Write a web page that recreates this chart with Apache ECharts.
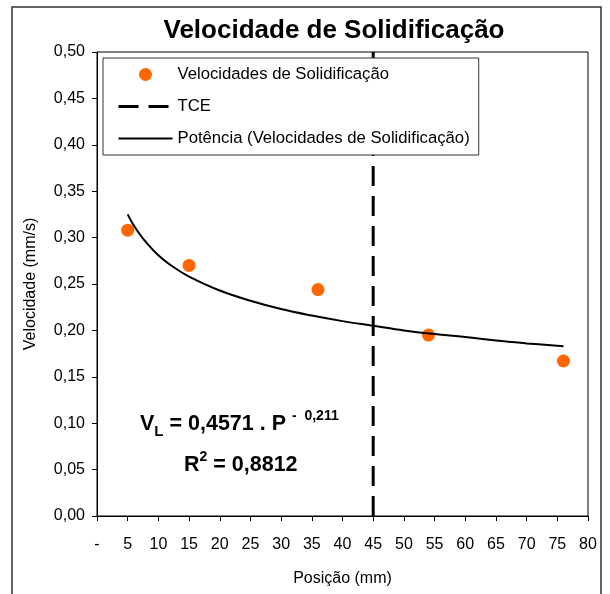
<!DOCTYPE html>
<html>
<head>
<meta charset="utf-8">
<script src="https://cdn.jsdelivr.net/npm/echarts@6.0.0/dist/echarts.min.js"></script>
<style>
  html, body { margin: 0; padding: 0; background: #fff; }
  #chart { width: 610px; height: 594px; }
</style>
</head>
<body>
<div id="chart"></div>
<script>
// Measured solidification speeds
const posicoes = [5, 15, 36, 54, 76];
const velocidades = [0.308, 0.270, 0.244, 0.195, 0.167];

// Power trendline V = 0,4571 . P^-0,211 (sampled values)
const tendenciaX = [5, 6, 7.5, 10, 12.5, 15, 20, 25, 30, 35, 40, 45, 50, 55, 60, 65, 70, 76];
const tendenciaY = [0.325, 0.313, 0.299, 0.281, 0.268, 0.258, 0.243, 0.232, 0.223, 0.216, 0.210, 0.205, 0.200, 0.196, 0.193, 0.189, 0.186, 0.183];

// Columnar-to-equiaxed transition position
const tceX = [45, 45];
const tceY = [0, 0.5];

const nomePontos = 'Velocidades de Solidificação';
const nomeTce = 'TCE';
const nomeTendencia = 'Potência (Velocidades de Solidificação)';

const FONT = '"Liberation Sans", Arial, sans-serif';

const pares = (xs, ys) => xs.map((x, i) => [x, ys[i]]);

const chart = echarts.init(document.getElementById('chart'), null, { renderer: 'canvas' });

const tceLinha = { color: '#000', width: 3, type: [20, 10] };
const tendLinha = { color: '#000', width: 2, type: 'solid' };

chart.setOption({
  backgroundColor: '#fff',
  animation: false,
  textStyle: { fontFamily: FONT, color: '#000' },
  grid: { left: 97, right: 22, top: 52, bottom: 78, show: true, borderColor: '#000', borderWidth: 1, backgroundColor: 'transparent' },
  xAxis: {
    type: 'value', min: 0, max: 80, interval: 5,
    name: 'Posição (mm)', nameLocation: 'middle', nameGap: 55,
    nameTextStyle: { fontFamily: FONT, fontSize: 16, color: '#000' },
    axisLine: { lineStyle: { color: '#000', width: 1 } },
    axisTick: { inside: false, length: 5, lineStyle: { color: '#000' } },
    axisLabel: { fontFamily: FONT, fontSize: 16, color: '#000', margin: 21,
      formatter: v => v === 0 ? '-' : String(v) },
    splitLine: { show: false }
  },
  yAxis: {
    type: 'value', min: 0, max: 0.5, interval: 0.05,
    name: 'Velocidade (mm/s)', nameLocation: 'middle', nameGap: 58,
    nameTextStyle: { fontFamily: FONT, fontSize: 16, color: '#000' },
    axisLine: { lineStyle: { color: '#000', width: 1 } },
    axisTick: { inside: false, length: 5, lineStyle: { color: '#000' } },
    axisLabel: { fontFamily: FONT, fontSize: 16, color: '#000', margin: 12,
      formatter: v => v.toFixed(2).replace('.', ',') },
    splitLine: { show: false }
  },
  legend: {
    orient: 'vertical', left: 103, top: 58,
    padding: [8, 9, 8, 14], itemGap: 15, itemWidth: 54, itemHeight: 13,
    backgroundColor: '#fff', borderColor: '#333', borderWidth: 1, borderRadius: 0,
    textStyle: { fontFamily: FONT, fontSize: 16.7, color: '#000' },
    data: [
      { name: nomePontos, icon: 'circle', itemStyle: { color: '#FF6600', opacity: 1 } },
      { name: nomeTce, itemStyle: { opacity: 0 }, lineStyle: tceLinha },
      { name: nomeTendencia, itemStyle: { opacity: 0 }, lineStyle: tendLinha }
    ],
    z: 10
  },
  series: [
    {
      name: nomePontos, type: 'scatter', symbol: 'circle', symbolSize: 13,
      itemStyle: { color: '#FF6600', opacity: 1 },
      data: pares(posicoes, velocidades), z: 2
    },
    {
      name: nomeTce, type: 'line', symbol: 'none', showSymbol: false,
      lineStyle: tceLinha,
      itemStyle: { color: '#000' },
      data: pares(tceX, tceY), z: 3
    },
    {
      name: nomeTendencia, type: 'line', symbol: 'none', showSymbol: false, smooth: 0.4,
      lineStyle: tendLinha,
      itemStyle: { color: '#000' },
      data: pares(tendenciaX, tendenciaY), z: 4
    }
  ],
  graphic: [
    {
      type: 'rect', silent: true, z: -1,
      shape: { x: 12, y: 7, width: 589, height: 600 },
      style: { fill: 'none', stroke: '#333', lineWidth: 1.5 }
    },
    {
      type: 'text', x: 334, y: 31, z: 20,
      style: {
        text: 'Velocidade de Solidificação',
        font: 'bold 26px ' + FONT, fill: '#000',
        textAlign: 'center', textVerticalAlign: 'middle'
      }
    },
    {
      type: 'text', x: 140, y: 424, z: 20,
      style: {
        text: '{b|V}{sub|L}{b| = 0,4571 . P }{sup|-  0,211}',
        textAlign: 'left', textVerticalAlign: 'middle',
        rich: {
          b: { fontFamily: FONT, fontWeight: 'bold', fontSize: 21.5, lineHeight: 30, verticalAlign: 'middle', fill: '#000' },
          sub: { fontFamily: FONT, fontWeight: 'bold', fontSize: 15, lineHeight: 15, verticalAlign: 'bottom', fill: '#000' },
          sup: { fontFamily: FONT, fontWeight: 'bold', fontSize: 14, lineHeight: 14, verticalAlign: 'top', fill: '#000' }
        }
      }
    },
    {
      type: 'text', x: 184, y: 465, z: 20,
      style: {
        text: '{b|R}{sup|2}{b| = 0,8812}',
        textAlign: 'left', textVerticalAlign: 'middle',
        rich: {
          b: { fontFamily: FONT, fontWeight: 'bold', fontSize: 21.5, lineHeight: 30, verticalAlign: 'middle', fill: '#000' },
          sup: { fontFamily: FONT, fontWeight: 'bold', fontSize: 14, lineHeight: 14, verticalAlign: 'top', fill: '#000' }
        }
      }
    }
  ]
});
</script>
</body>
</html>
